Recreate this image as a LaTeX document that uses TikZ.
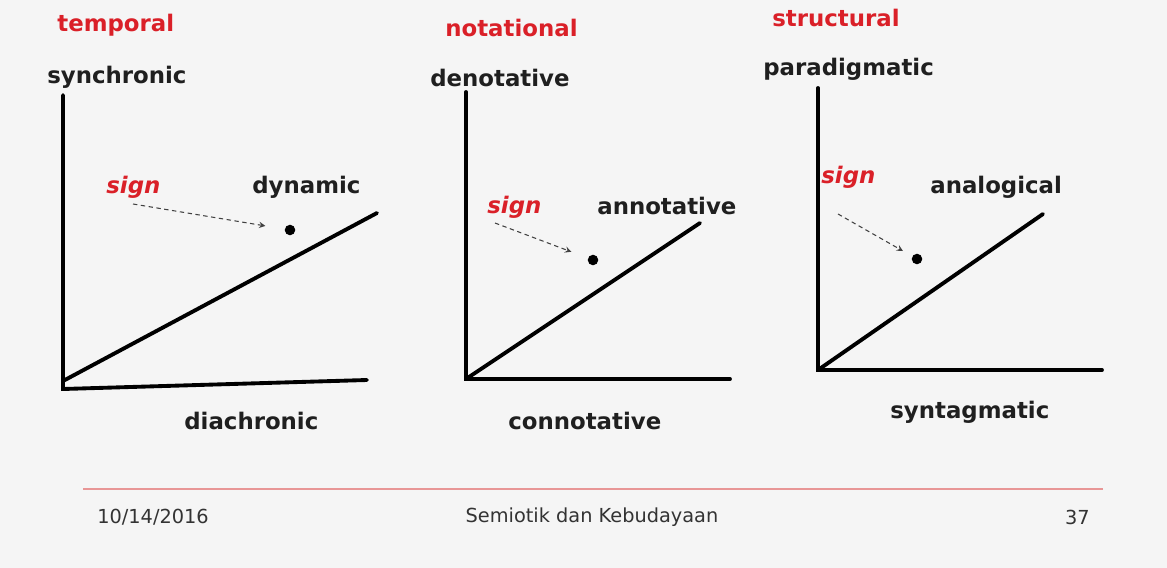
\documentclass[tikz,border=0pt]{standalone}
\usepackage{fontspec}
\setmainfont{DejaVu Sans}
\usetikzlibrary{arrows, positioning, calc}
\definecolor{signred}{RGB}{218,32,40}
\definecolor{rulered}{RGB}{232,150,150}

\begin{document}
\begin{tikzpicture}[
    x=0.02cm, y=-0.02cm,
    label/.style={inner sep=0pt, anchor=west, font=\fontsize{13}{15}\selectfont\bfseries, text=black!88},
    heading/.style={label, text=signred},
    signlabel/.style={label, text=signred, font=\fontsize{13}{15}\selectfont\bfseries\itshape},
    axis/.style={line width=2.2pt, line cap=round, line join=miter},
    point/.style={circle, fill=black, inner sep=0pt, minimum size=6pt},
    pointer/.style={->, >=stealth, black!75, semithick, dash pattern=on 2.5pt off 2pt, shorten >=#1},
    footer/.style={inner sep=0pt, font=\fontsize{11}{13}\selectfont, text=black!80},
]

% ── Page ──
\fill[black!4] (0,0) rectangle (1167,568);
\useasboundingbox (0,0) rectangle (1167,568);

% ── Panel 1: temporal ──
\node[heading] (temporal) at (57,25) {temporal};
\node[label] (synchronic) at (47,77) {synchronic};
\node[label] (dynamic) at (252,187) {dynamic};
\node[label] (diachronic) at (184,421) {diachronic};
\node[signlabel] (sign1) at (106,187) {sign};
\coordinate (o1) at (63,389);
\draw[axis] (63,95) -- (o1) -- (367,380);
\draw[axis] (63,381) -- (377,213);
\node[point] (dot1) at (290,230) {};
\coordinate (s1) at (133,204);
\draw[pointer=11pt] (s1) -- (dot1);

% ── Panel 2: notational ──
\node[heading] (notational) at (445,28) {notational};
\node[label] (denotative) at (430,78) {denotative};
\node[label] (annotative) at (597,206) {annotative};
\node[label] (connotative) at (508,421) {connotative};
\node[signlabel] (sign2) at (487,207) {sign};
\coordinate (o2) at (466,379);
\draw[axis] (466,92) -- (o2) -- (730,379);
\draw[axis] (o2) -- (700,223);
\node[point] (dot2) at (593,260) {};
\coordinate (s2) at (495,223);
\draw[pointer=10pt] (s2) -- (dot2);

% ── Panel 3: structural ──
\node[heading] (structural) at (772,18) {structural};
\node[label] (paradigmatic) at (763,69) {paradigmatic};
\node[label] (analogical) at (930,187) {analogical};
\node[label] (syntagmatic) at (890,412) {syntagmatic};
\node[signlabel] (sign3) at (821,177) {sign};
\coordinate (o3) at (818,370);
\draw[axis] (818,88) -- (o3) -- (1102,370);
\draw[axis] (o3) -- (1043,214);
\node[point] (dot3) at (917,259) {};
\coordinate (s3) at (838,214);
\draw[pointer=6pt] (s3) -- (dot3);

% ── Footer ──
\draw[rulered, line width=1pt] (83,489) -- (1103,489);
\node[footer, anchor=west] (date) at (97,517) {10/14/2016};
\node[footer] (title) at (592,517) {Semiotik dan Kebudayaan};
\node[footer, anchor=east] (page) at (1090,517) {37};

\end{tikzpicture}
\end{document}
